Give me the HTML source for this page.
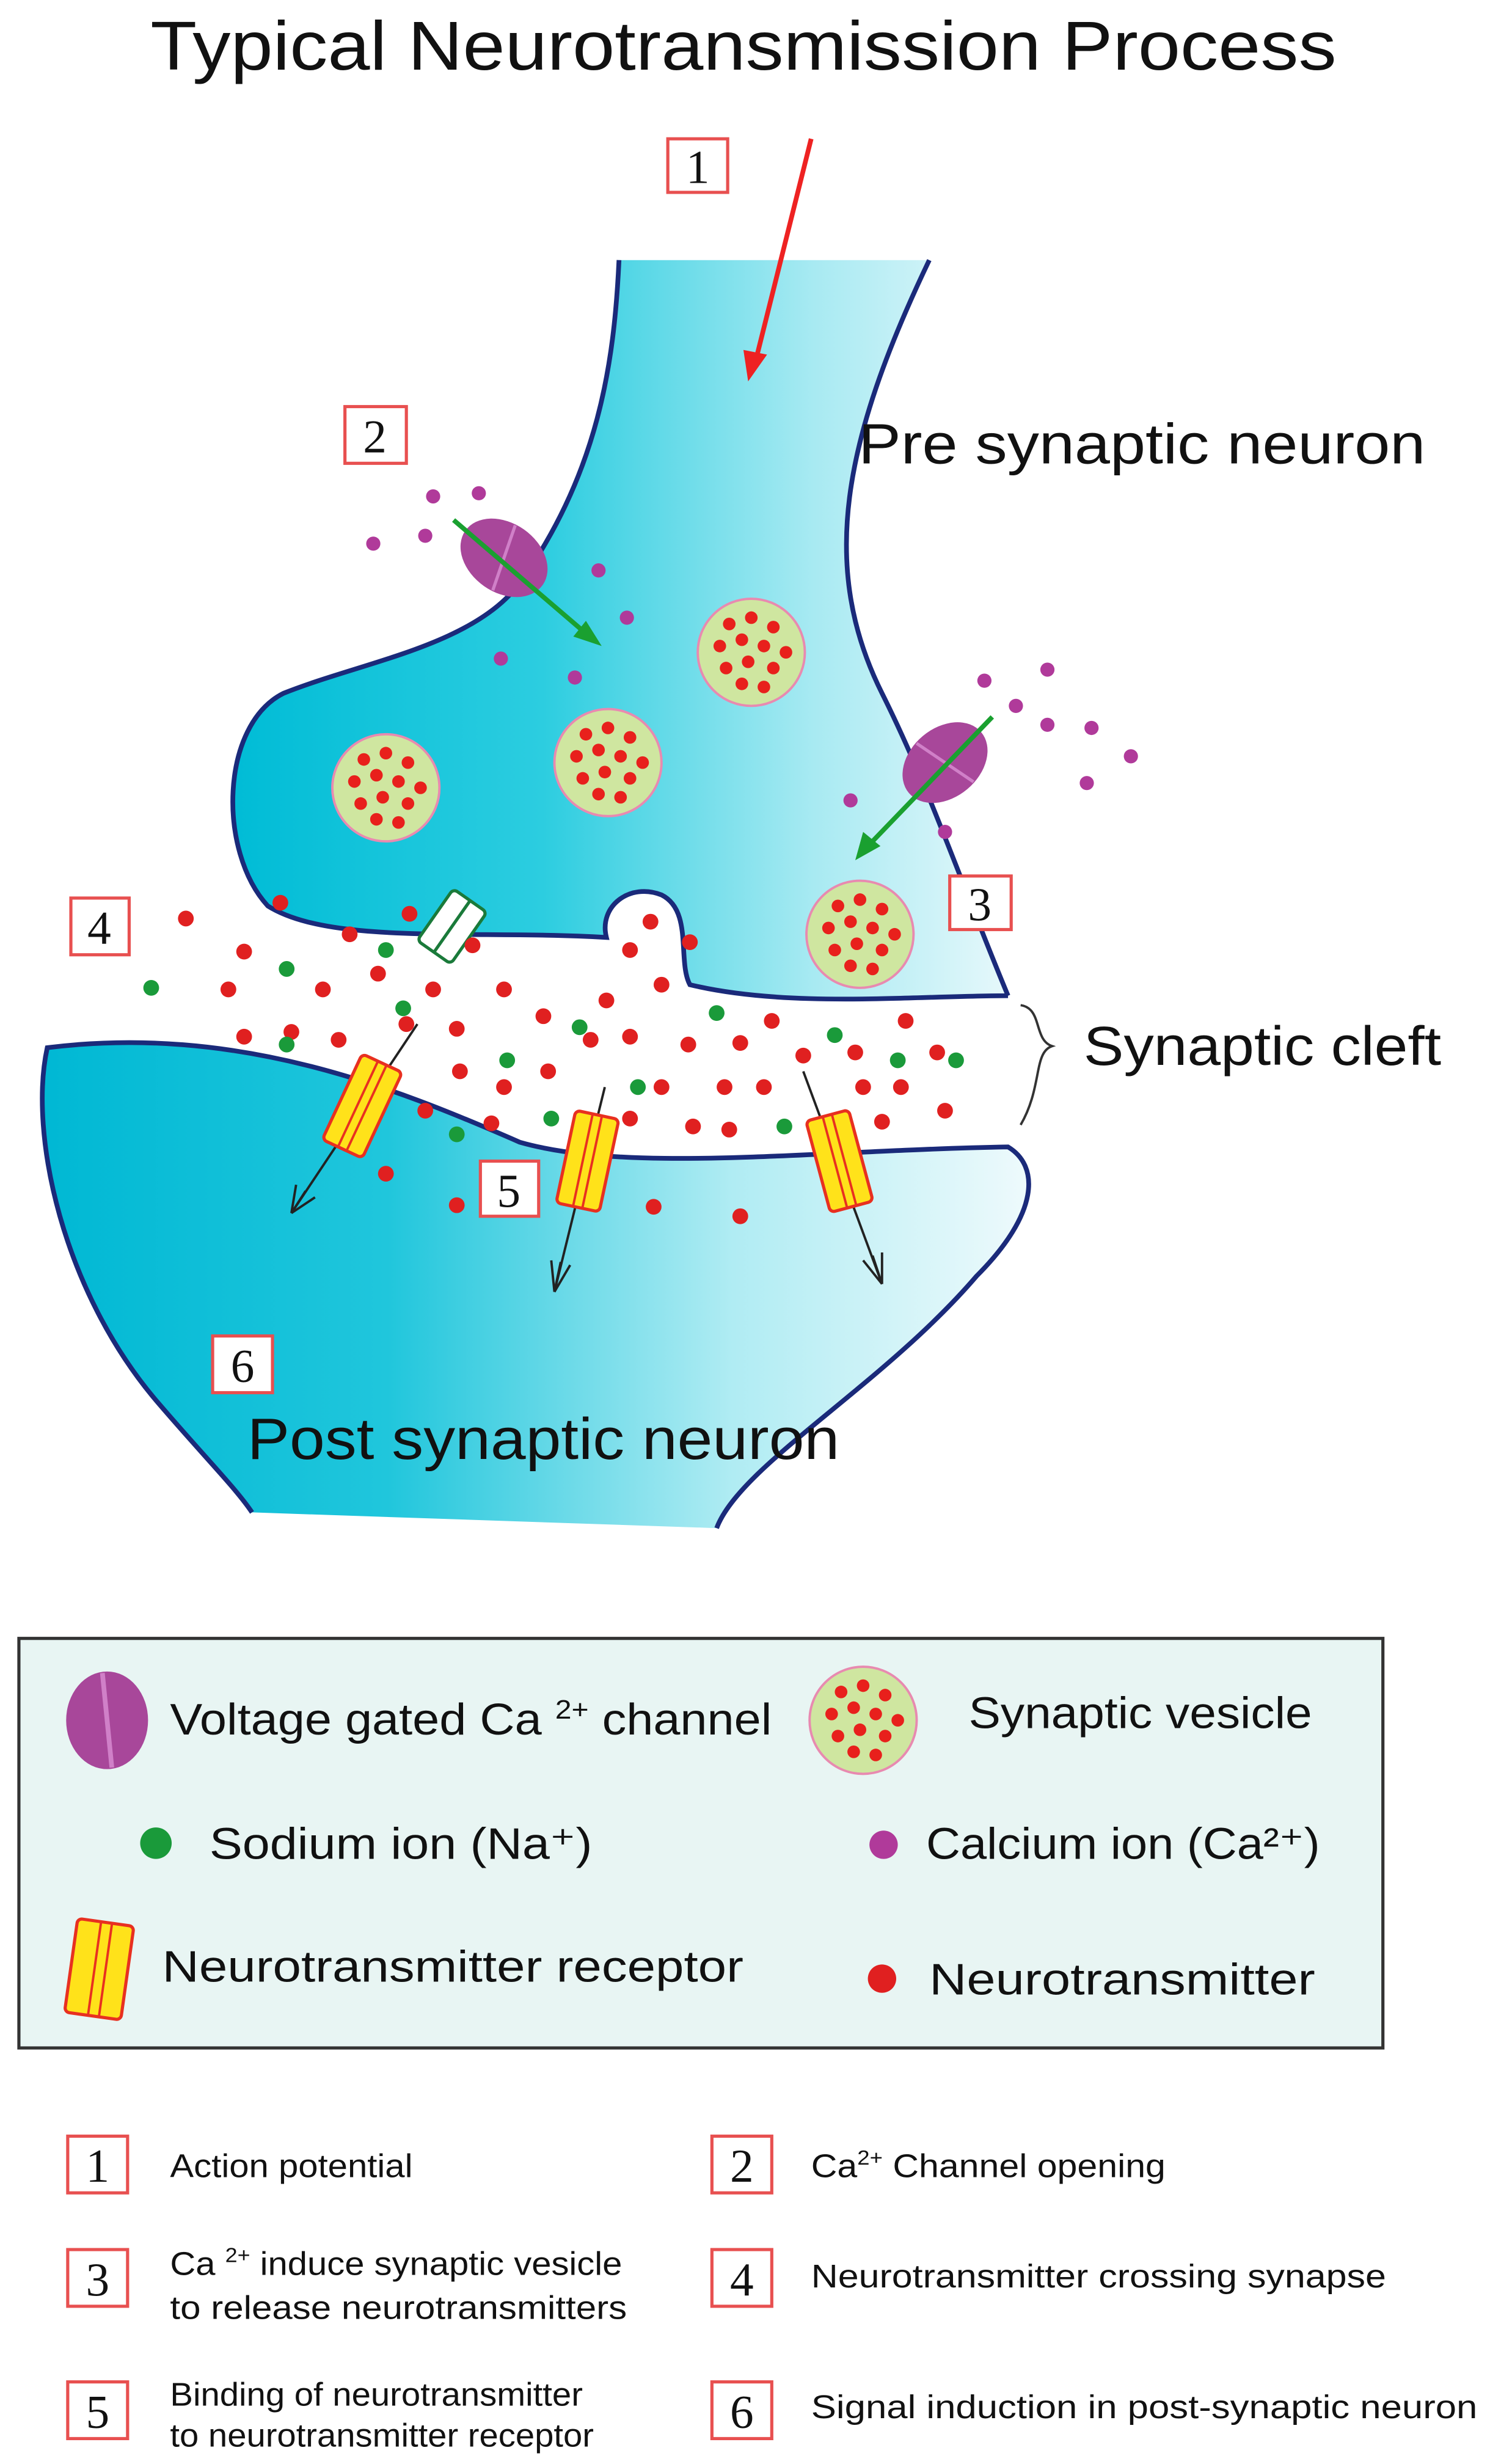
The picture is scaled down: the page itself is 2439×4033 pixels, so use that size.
<!DOCTYPE html>
<html><head><meta charset="utf-8"><style>
html,body{margin:0;padding:0;background:#fff}
svg{display:block}
text{font-family:"Liberation Sans",sans-serif}
</style></head><body>
<svg width="2439" height="4033" viewBox="0 0 946 1564" xmlns="http://www.w3.org/2000/svg">
<defs>
<linearGradient id="gp" x1="0" x2="1" y1="0" y2="0">
<stop offset="0" stop-color="#00bcd6"/><stop offset="0.4" stop-color="#2ccde0"/><stop offset="0.75" stop-color="#a8eaf2"/><stop offset="1" stop-color="#e6f8fb"/></linearGradient>
<linearGradient id="gq" x1="0" x2="1" y1="0" y2="0">
<stop offset="0" stop-color="#00b8d4"/><stop offset="0.35" stop-color="#20c6dc"/><stop offset="0.7" stop-color="#b0ecf3"/><stop offset="1" stop-color="#eefafc"/></linearGradient>
<g id="ves"><circle r="34" fill="#cfe6a0" stroke="#e88ab0" stroke-width="1.5"/>
<g fill="#e8201c"><circle cx="-14" cy="-18" r="4"/><circle cx="0" cy="-22" r="4"/><circle cx="14" cy="-16" r="4"/><circle cx="-20" cy="-4" r="4"/><circle cx="-6" cy="-8" r="4"/><circle cx="8" cy="-4" r="4"/><circle cx="22" cy="0" r="4"/><circle cx="-16" cy="10" r="4"/><circle cx="-2" cy="6" r="4"/><circle cx="14" cy="10" r="4"/><circle cx="-6" cy="20" r="4"/><circle cx="8" cy="22" r="4"/></g></g>
<g id="rec"><rect x="-14" y="-30" width="28" height="60" rx="3" fill="#ffe21a" stroke="#e83020" stroke-width="2"/><line x1="-3" y1="-30" x2="-3" y2="30" stroke="#e83020" stroke-width="1.5"/><line x1="3" y1="-30" x2="3" y2="30" stroke="#e83020" stroke-width="1.5"/></g>
<g id="ch"><ellipse rx="30" ry="22" fill="#a8479a"/><line x1="-6" y1="-21" x2="6" y2="21" stroke="#d080c8" stroke-width="2"/></g>
</defs>

<text x="472" y="44" font-size="44" text-anchor="middle" fill="#111" textLength="753" lengthAdjust="spacingAndGlyphs">Typical Neurotransmission Process</text>

<!-- presynaptic -->
<path d="M393 165 C390 230 380 300 330 370 C300 410 230 420 180 440 C140 460 138 540 170 575 C210 600 300 590 385 595 C380 575 400 560 420 568 C440 578 430 610 438 625 C500 640 580 632 640 632 C610 560 590 500 560 440 C520 360 535 280 590 165 Z" fill="url(#gp)"/>
<path d="M393 165 C390 230 380 300 330 370 C300 410 230 420 180 440 C140 460 138 540 170 575 C210 600 300 590 385 595 C380 575 400 560 420 568 C440 578 430 610 438 625 C500 640 580 632 640 632 M590 165 C535 280 520 360 560 440 C590 500 610 560 640 632" fill="none" stroke="#1a2a7a" stroke-width="3"/>

<!-- postsynaptic -->
<path d="M455 970 C470 930 560 880 620 810 C660 770 660 740 640 728 C520 730 400 745 330 725 C250 690 150 650 30 665 C18 720 40 820 100 890 C130 925 150 945 160 960 Z" fill="url(#gq)"/>
<path d="M455 970 C470 930 560 880 620 810 C660 770 660 740 640 728 C520 730 400 745 330 725 C250 690 150 650 30 665 C18 720 40 820 100 890 C130 925 150 945 160 960" fill="none" stroke="#1a2a7a" stroke-width="3"/>

<!-- action potential arrow -->
<line x1="515" y1="88" x2="480" y2="228" stroke="#ee2222" stroke-width="3"/>
<polygon points="475,242 472,222 487,225" fill="#ee2222"/>

<!-- number boxes -->
<g fill="#fff" stroke="#e85050" stroke-width="2">
<rect x="424" y="88" width="38" height="34"/><rect x="219" y="258" width="39" height="36"/><rect x="603" y="556" width="39" height="34"/><rect x="45" y="570" width="37" height="36"/><rect x="305" y="737" width="37" height="35"/><rect x="135" y="848" width="38" height="36"/></g>
<g font-size="30" fill="#111" text-anchor="middle">
<text x="443" y="116" style="font-family:'Liberation Serif',serif">1</text><text x="238" y="287" style="font-family:'Liberation Serif',serif">2</text><text x="622" y="584" style="font-family:'Liberation Serif',serif">3</text><text x="63" y="599" style="font-family:'Liberation Serif',serif">4</text><text x="323" y="766" style="font-family:'Liberation Serif',serif">5</text><text x="154" y="877" style="font-family:'Liberation Serif',serif">6</text></g>

<text x="545" y="294" font-size="36" fill="#111" textLength="360" lengthAdjust="spacingAndGlyphs">Pre synaptic neuron</text>
<text x="688" y="676" font-size="35" fill="#111" textLength="227" lengthAdjust="spacingAndGlyphs">Synaptic cleft</text>
<text x="157" y="926" font-size="37" fill="#111" textLength="376" lengthAdjust="spacingAndGlyphs">Post synaptic neuron</text>
<path d="M648 638 C662 640 656 660 668 664 C656 668 662 690 648 714" fill="none" stroke="#333" stroke-width="1.5"/>

<!-- vesicles -->
<use href="#ves" x="477" y="414"/><use href="#ves" x="245" y="500"/><use href="#ves" x="386" y="484"/><use href="#ves" x="546" y="593"/>

<!-- channels -->
<use href="#ch" transform="translate(320,354) rotate(35)"/>
<use href="#ch" transform="translate(600,484) rotate(-40)"/>
<line x1="288" y1="330" x2="372" y2="402" stroke="#1aa030" stroke-width="3"/><polygon points="382,410 364,404 372,394" fill="#1aa030"/>
<line x1="630" y1="455" x2="552" y2="536" stroke="#1aa030" stroke-width="3"/><polygon points="543,546 548,528 559,537" fill="#1aa030"/>

<!-- calcium ions -->
<g fill="#b03a9a"><circle cx="275" cy="315" r="4.5"/><circle cx="304" cy="313" r="4.5"/><circle cx="237" cy="345" r="4.5"/><circle cx="270" cy="340" r="4.5"/><circle cx="380" cy="362" r="4.5"/><circle cx="398" cy="392" r="4.5"/><circle cx="318" cy="418" r="4.5"/><circle cx="365" cy="430" r="4.5"/><circle cx="625" cy="432" r="4.5"/><circle cx="665" cy="425" r="4.5"/><circle cx="645" cy="448" r="4.5"/><circle cx="665" cy="460" r="4.5"/><circle cx="693" cy="462" r="4.5"/><circle cx="718" cy="480" r="4.5"/><circle cx="690" cy="497" r="4.5"/><circle cx="540" cy="508" r="4.5"/><circle cx="600" cy="528" r="4.5"/></g>

<!-- white receptor -->
<g transform="translate(287,588) rotate(35)"><rect x="-13" y="-20" width="26" height="40" rx="3" fill="#fff" stroke="#1a7a3a" stroke-width="2"/><line x1="0" y1="-20" x2="0" y2="20" stroke="#1a7a3a" stroke-width="2"/></g>

<!-- neurotransmitters -->
<g fill="#e02020">
<circle cx="118" cy="583" r="5"/><circle cx="178" cy="573" r="5"/><circle cx="155" cy="604" r="5"/><circle cx="222" cy="593" r="5"/><circle cx="260" cy="580" r="5"/><circle cx="145" cy="628" r="5"/><circle cx="205" cy="628" r="5"/><circle cx="240" cy="618" r="5"/><circle cx="275" cy="628" r="5"/><circle cx="155" cy="658" r="5"/><circle cx="215" cy="660" r="5"/><circle cx="258" cy="650" r="5"/><circle cx="290" cy="653" r="5"/><circle cx="320" cy="628" r="5"/><circle cx="345" cy="645" r="5"/><circle cx="385" cy="635" r="5"/><circle cx="400" cy="603" r="5"/><circle cx="413" cy="585" r="5"/><circle cx="438" cy="598" r="5"/><circle cx="420" cy="625" r="5"/><circle cx="400" cy="658" r="5"/><circle cx="437" cy="663" r="5"/><circle cx="470" cy="662" r="5"/><circle cx="490" cy="648" r="5"/><circle cx="510" cy="670" r="5"/><circle cx="543" cy="668" r="5"/><circle cx="575" cy="648" r="5"/><circle cx="595" cy="668" r="5"/><circle cx="460" cy="690" r="5"/><circle cx="485" cy="690" r="5"/><circle cx="548" cy="690" r="5"/><circle cx="572" cy="690" r="5"/><circle cx="600" cy="705" r="5"/><circle cx="560" cy="712" r="5"/><circle cx="440" cy="715" r="5"/><circle cx="463" cy="717" r="5"/><circle cx="292" cy="680" r="5"/><circle cx="320" cy="690" r="5"/><circle cx="348" cy="680" r="5"/><circle cx="375" cy="660" r="5"/><circle cx="270" cy="705" r="5"/><circle cx="312" cy="713" r="5"/><circle cx="420" cy="690" r="5"/><circle cx="400" cy="710" r="5"/><circle cx="245" cy="745" r="5"/><circle cx="290" cy="765" r="5"/><circle cx="415" cy="766" r="5"/><circle cx="470" cy="772" r="5"/><circle cx="185" cy="655" r="5"/><circle cx="300" cy="600" r="5"/></g>
<!-- sodium -->
<g fill="#1a9a3a"><circle cx="96" cy="627" r="5"/><circle cx="182" cy="615" r="5"/><circle cx="245" cy="603" r="5"/><circle cx="182" cy="663" r="5"/><circle cx="256" cy="640" r="5"/><circle cx="322" cy="673" r="5"/><circle cx="368" cy="652" r="5"/><circle cx="455" cy="643" r="5"/><circle cx="530" cy="657" r="5"/><circle cx="570" cy="673" r="5"/><circle cx="607" cy="673" r="5"/><circle cx="498" cy="715" r="5"/><circle cx="405" cy="690" r="5"/><circle cx="350" cy="710" r="5"/><circle cx="290" cy="720" r="5"/></g>

<!-- receptors + arrows -->
<g stroke="#222" stroke-width="1.5" fill="none">
<line x1="265" y1="650" x2="185" y2="770"/><line x1="185" y1="770" x2="188" y2="752"/><line x1="185" y1="770" x2="200" y2="760"/><line x1="185" y1="770" x2="194" y2="756"/>
<line x1="384" y1="690" x2="352" y2="820"/><line x1="352" y1="820" x2="350" y2="800"/><line x1="352" y1="820" x2="362" y2="803"/><line x1="352" y1="820" x2="356" y2="801"/>
<line x1="510" y1="680" x2="560" y2="815"/><line x1="560" y1="815" x2="548" y2="800"/><line x1="560" y1="815" x2="560" y2="795"/><line x1="560" y1="815" x2="554" y2="797"/>
</g>
<use href="#rec" transform="translate(230,702) rotate(25)"/>
<use href="#rec" transform="translate(373,737) rotate(12)"/>
<use href="#rec" transform="translate(533,737) rotate(-15)"/>

<!-- legend -->
<rect x="12" y="1040" width="866" height="260" fill="#e8f5f3" stroke="#333" stroke-width="2"/>
<g transform="translate(68,1092)"><ellipse rx="26" ry="31" fill="#a8479a"/><line x1="-3" y1="-30" x2="3" y2="30" stroke="#d080c8" stroke-width="3"/></g>
<text x="108" y="1101" font-size="28" fill="#111" textLength="382" lengthAdjust="spacingAndGlyphs">Voltage gated Ca <tspan font-size="17" dy="-10">2+</tspan><tspan dy="10"> channel</tspan></text>
<use href="#ves" x="548" y="1092"/>
<text x="615" y="1097" font-size="28" fill="#111" textLength="218" lengthAdjust="spacingAndGlyphs">Synaptic vesicle</text>
<circle cx="99" cy="1170" r="10" fill="#1a9a3a"/>
<text x="133" y="1180" font-size="28" fill="#111" textLength="243" lengthAdjust="spacingAndGlyphs">Sodium ion (Na⁺)</text>
<circle cx="561" cy="1171" r="9" fill="#b03a9a"/>
<text x="588" y="1180" font-size="28" fill="#111" textLength="250" lengthAdjust="spacingAndGlyphs">Calcium ion (Ca²⁺)</text>
<g transform="translate(63,1250) rotate(8)"><rect x="-18" y="-30" width="36" height="60" rx="3" fill="#ffe21a" stroke="#e83020" stroke-width="2"/><line x1="-3" y1="-30" x2="-3" y2="30" stroke="#e83020" stroke-width="1.5"/><line x1="4" y1="-30" x2="4" y2="30" stroke="#e83020" stroke-width="1.5"/></g>
<text x="103" y="1258" font-size="28" fill="#111" textLength="369" lengthAdjust="spacingAndGlyphs">Neurotransmitter receptor</text>
<circle cx="560" cy="1256" r="9" fill="#e02020"/>
<text x="590" y="1266" font-size="28" fill="#111" textLength="245" lengthAdjust="spacingAndGlyphs">Neurotransmitter</text>

<!-- bottom list -->
<g fill="#fff" stroke="#e85050" stroke-width="2">
<rect x="43" y="1356" width="38" height="36"/><rect x="452" y="1356" width="38" height="36"/><rect x="43" y="1428" width="38" height="36"/><rect x="452" y="1428" width="38" height="36"/><rect x="43" y="1512" width="38" height="36"/><rect x="452" y="1512" width="38" height="36"/></g>
<g font-size="30" fill="#111" text-anchor="middle">
<text x="62" y="1385" style="font-family:'Liberation Serif',serif">1</text><text x="471" y="1385" style="font-family:'Liberation Serif',serif">2</text><text x="62" y="1457" style="font-family:'Liberation Serif',serif">3</text><text x="471" y="1457" style="font-family:'Liberation Serif',serif">4</text><text x="62" y="1541" style="font-family:'Liberation Serif',serif">5</text><text x="471" y="1541" style="font-family:'Liberation Serif',serif">6</text></g>
<g font-size="21" fill="#111">
<text x="108" y="1382" textLength="154" lengthAdjust="spacingAndGlyphs">Action potential</text>
<text x="515" y="1382" textLength="225" lengthAdjust="spacingAndGlyphs">Ca<tspan font-size="13" dy="-8">2+</tspan><tspan dy="8"> Channel opening</tspan></text>
<text x="108" y="1444" textLength="287" lengthAdjust="spacingAndGlyphs">Ca <tspan font-size="13" dy="-8">2+</tspan><tspan dy="8"> induce synaptic vesicle</tspan></text>
<text x="108" y="1472" textLength="290" lengthAdjust="spacingAndGlyphs">to release neurotransmitters</text>
<text x="515" y="1452" textLength="365" lengthAdjust="spacingAndGlyphs">Neurotransmitter crossing synapse</text>
<text x="108" y="1527" textLength="262" lengthAdjust="spacingAndGlyphs">Binding of neurotransmitter</text>
<text x="108" y="1553" textLength="269" lengthAdjust="spacingAndGlyphs">to neurotransmitter receptor</text>
<text x="515" y="1535" textLength="423" lengthAdjust="spacingAndGlyphs">Signal induction in post-synaptic neuron</text>
</g>
</svg>
</body></html>
